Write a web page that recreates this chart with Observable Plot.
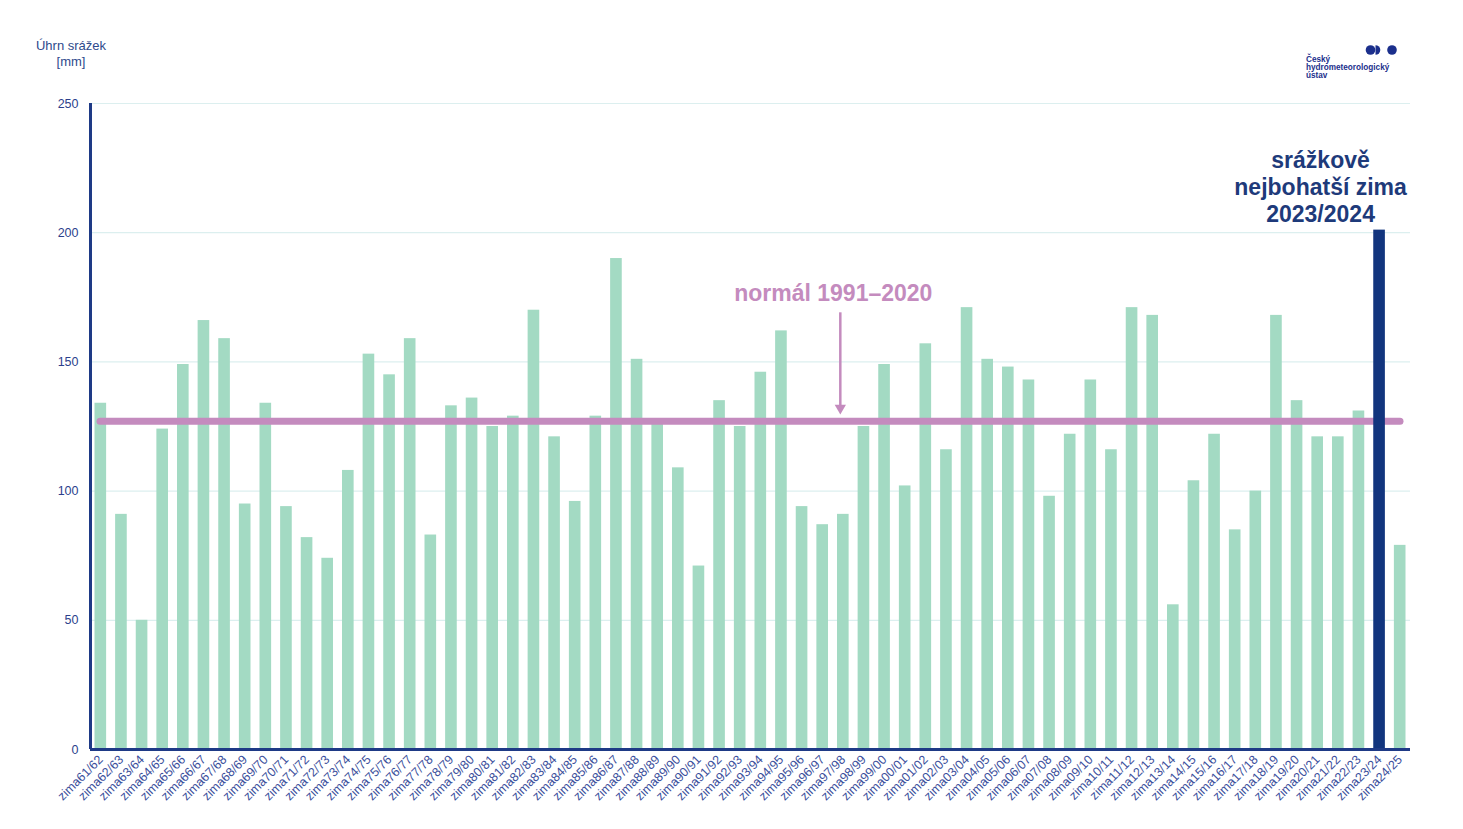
<!DOCTYPE html>
<html><head><meta charset="utf-8">
<script src="https://cdn.jsdelivr.net/npm/d3@7"></script>
<script src="https://cdn.jsdelivr.net/npm/@observablehq/plot@0.6"></script>
<style>
body{margin:0;background:#fff;font-family:"Liberation Sans",Arial,sans-serif;}
#wrap{position:relative;width:1463px;height:829px;overflow:hidden;}
#ytitle{position:absolute;left:20px;top:38px;width:102px;text-align:center;font-size:13px;line-height:16px;color:#2e4a8c;}
#logo{position:absolute;left:1300px;top:40px;}
</style></head><body>
<div id="wrap">
<div id="chart"></div>
<div id="ytitle">Úhrn srážek<br>[mm]</div>
<svg id="logo" width="110" height="45">
 <circle cx="70.5" cy="10" r="4.8" fill="#1b2f8c"/>
 <path d="M75.5 5.2 a4.8 4.8 0 0 1 0 9.6 z" fill="#1b2f8c"/>
 <circle cx="92" cy="10" r="4.8" fill="#1b2f8c"/>
 <text x="6" y="22" font-size="8.2" font-weight="bold" fill="#1b2f8c" font-family="Liberation Sans, Arial, sans-serif">Český</text>
 <text x="6" y="30" font-size="8.2" font-weight="bold" fill="#1b2f8c" font-family="Liberation Sans, Arial, sans-serif">hydrometeorologický</text>
 <text x="6" y="38" font-size="8.2" font-weight="bold" fill="#1b2f8c" font-family="Liberation Sans, Arial, sans-serif">ústav</text>
</svg>
</div>
<script>
const seasons = [
 "zima61/62","zima62/63","zima63/64","zima64/65","zima65/66","zima66/67","zima67/68","zima68/69",
 "zima69/70","zima70/71","zima71/72","zima72/73","zima73/74","zima74/75","zima75/76","zima76/77",
 "zima77/78","zima78/79","zima79/80","zima80/81","zima81/82","zima82/83","zima83/84","zima84/85",
 "zima85/86","zima86/87","zima87/88","zima88/89","zima89/90","zima90/91","zima91/92","zima92/93",
 "zima93/94","zima94/95","zima95/96","zima96/97","zima97/98","zima98/99","zima99/00","zima00/01",
 "zima01/02","zima02/03","zima03/04","zima04/05","zima05/06","zima06/07","zima07/08","zima08/09",
 "zima09/10","zima10/11","zima11/12","zima12/13","zima13/14","zima14/15","zima15/16","zima16/17",
 "zima17/18","zima18/19","zima19/20","zima20/21","zima21/22","zima22/23","zima23/24","zima24/25"
];
const precipitation = [
 134, 91, 50, 124, 149, 166, 159, 95,
 134, 94, 82, 74, 108, 153, 145, 159,
 83, 133, 136, 125, 129, 170, 121, 96,
 129, 190, 151, 126, 109, 71, 135, 125,
 146, 162, 94, 87, 91, 125, 149, 102,
 157, 116, 171, 151, 148, 143, 98, 122,
 143, 116, 171, 168, 56, 104, 122, 85,
 100, 168, 135, 121, 121, 131, 201, 79
];
const normal1991_2020 = 127;
const highlightSeason = "zima23/24";
const yTicks = [0, 50, 100, 150, 200, 250];
const normalLabel = "normál 1991–2020";
const highlightLabel = "srážkově\nnejbohatší zima\n2023/2024";

const data = seasons.map((s, i) => ({season: s, value: precipitation[i]}));
const W = 1463, ML = 90, MR = 53;
const navy = "#1e3a86";
const pink = "#c48bbe";

const chart = Plot.plot({
  width: W, height: 829,
  marginLeft: ML, marginRight: MR, marginTop: 103, marginBottom: 80,
  style: {fontFamily: "Liberation Sans, Arial, sans-serif", background: "white", overflow: "visible"},
  x: {domain: seasons, padding: 0, label: null},
  y: {domain: [0, 250], ticks: yTicks, label: null},
  marks: [
    Plot.gridY(yTicks, {stroke: "#dcefef", strokeOpacity: 1, strokeWidth: 1.2}),
    Plot.barY(data.filter(d => d.season !== highlightSeason), {x: "season", y: "value", fill: "#a3dac3", insetLeft: 4.5, insetRight: 4.5}),
    Plot.ruleY([normal1991_2020], {stroke: pink, strokeWidth: 7, strokeLinecap: "round", insetLeft: 10, insetRight: 10}),
    Plot.barY(data.filter(d => d.season === highlightSeason), {x: "season", y: "value", fill: "#12357e", insetLeft: 4.5, insetRight: 4.5}),
    Plot.ruleY([0], {stroke: navy, strokeWidth: 3}),
    Plot.ruleX([seasons[0]], {stroke: navy, strokeWidth: 3, dx: -(W - ML - MR) / seasons.length / 2}),
    Plot.axisY({ticks: yTicks, tickSize: 0, tickPadding: 12, fontSize: 12.5, color: "#2c3f8c", label: null}),
    Plot.axisX({tickSize: 0, tickPadding: 8, tickRotate: -45, fontSize: 12.5, color: "#3b4f9c", label: null}),
    Plot.ruleX([{s: "zima97/98"}], {x: "s", y1: 169, y2: 133, dx: -3, stroke: pink, strokeWidth: 2.5}),
    Plot.dot([{s: "zima97/98"}], {x: "s", y: 132.2, dx: -3, symbol: "triangle", rotate: 180, r: 4.2, fill: pink, stroke: "none"}),
    Plot.text([{s: "zima97/98"}], {x: "s", y: 176.5, text: () => normalLabel, dx: -10, fontSize: 23, fontWeight: "bold", fill: pink, lineAnchor: "middle"}),
    Plot.text([{s: highlightSeason}], {x: "s", y: 218, text: () => highlightLabel, dx: -59, fontSize: 23, fontWeight: "bold", fill: "#1e3a7a", lineAnchor: "middle", lineHeight: 1.17})
  ]
});
document.getElementById("chart").appendChild(chart);
</script>
</body></html>
